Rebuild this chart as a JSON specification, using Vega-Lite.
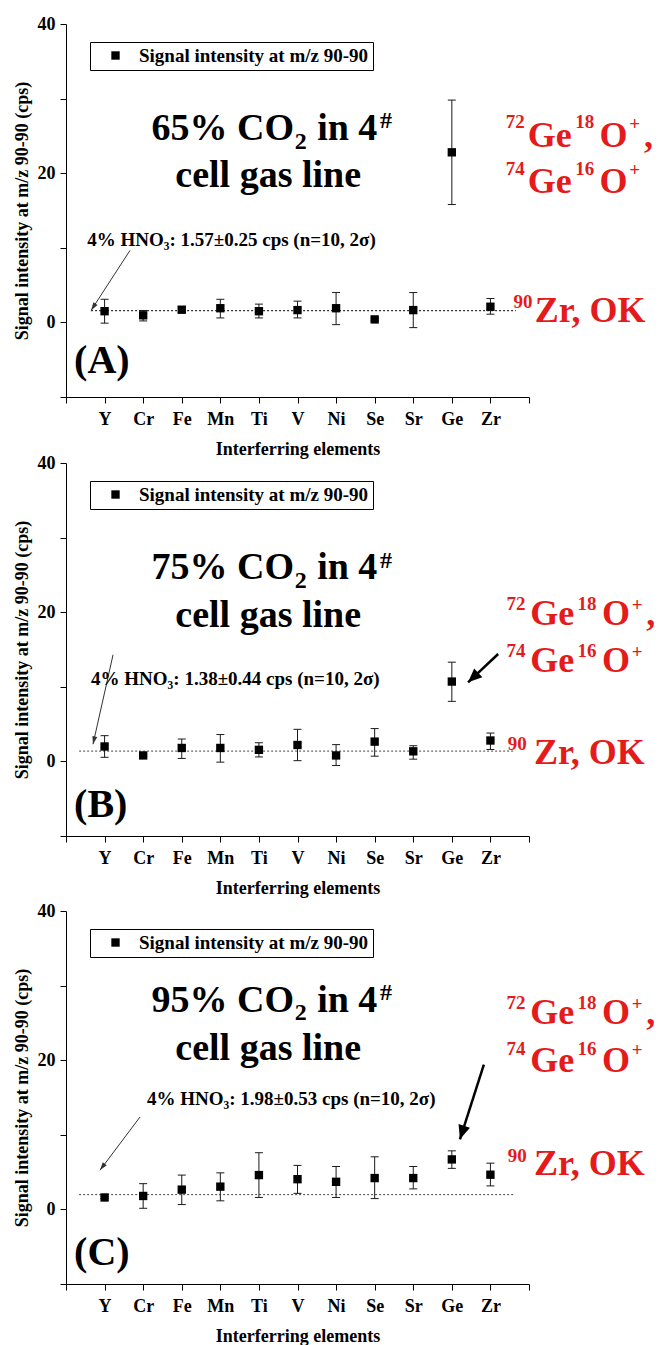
{
"$schema": "https://vega.github.io/schema/vega-lite/v6.json",
"padding": {"left": 13, "top": 15, "right": 0, "bottom": 5},
"config": {
  "font": "Liberation Serif",
  "view": {"stroke": null},
  "axis": {"labelFont": "Liberation Serif", "labelFontWeight": "bold", "labelFontSize": 18, "labelColor": "black", "titleFont": "Liberation Serif", "titleFontWeight": "bold", "titleFontSize": 18, "titleColor": "black", "domainColor": "black", "tickColor": "black", "grid": false, "tickSize": 6, "domainWidth": 1, "tickWidth": 1, "labelOverlap": false},
  "text": {"font": "Liberation Serif", "fontWeight": "bold", "baseline": "alphabetic"}
},
"datasets": {
  "pts": [
    {"panel":"A","element":"Y","value":1.5,"lo":-0.1,"hi":3.1},
    {"panel":"A","element":"Cr","value":0.95,"lo":0.2,"hi":1.6},
    {"panel":"A","element":"Fe","value":1.7,"lo":1.35,"hi":2.05},
    {"panel":"A","element":"Mn","value":1.9,"lo":0.6,"hi":3.1},
    {"panel":"A","element":"Ti","value":1.5,"lo":0.6,"hi":2.45},
    {"panel":"A","element":"V","value":1.65,"lo":0.6,"hi":2.85},
    {"panel":"A","element":"Ni","value":1.9,"lo":-0.3,"hi":4.0},
    {"panel":"A","element":"Se","value":0.4,"lo":0.25,"hi":0.55},
    {"panel":"A","element":"Sr","value":1.65,"lo":-0.7,"hi":4.0},
    {"panel":"A","element":"Ge","value":22.8,"lo":15.8,"hi":29.8},
    {"panel":"A","element":"Zr","value":2.1,"lo":1.1,"hi":3.2},
    {"panel":"B","element":"Y","value":2.0,"lo":0.55,"hi":3.45},
    {"panel":"B","element":"Cr","value":0.8,"lo":0.65,"hi":0.95},
    {"panel":"B","element":"Fe","value":1.8,"lo":0.4,"hi":3.0},
    {"panel":"B","element":"Mn","value":1.8,"lo":-0.1,"hi":3.6},
    {"panel":"B","element":"Ti","value":1.55,"lo":0.6,"hi":2.5},
    {"panel":"B","element":"V","value":2.2,"lo":0.1,"hi":4.3},
    {"panel":"B","element":"Ni","value":0.8,"lo":-0.55,"hi":2.25},
    {"panel":"B","element":"Se","value":2.65,"lo":0.7,"hi":4.4},
    {"panel":"B","element":"Sr","value":1.35,"lo":0.3,"hi":2.1},
    {"panel":"B","element":"Ge","value":10.7,"lo":8.05,"hi":13.3},
    {"panel":"B","element":"Zr","value":2.8,"lo":1.6,"hi":3.8},
    {"panel":"C","element":"Y","value":1.6,"lo":1.45,"hi":1.75},
    {"panel":"C","element":"Cr","value":1.8,"lo":0.15,"hi":3.45},
    {"panel":"C","element":"Fe","value":2.65,"lo":0.65,"hi":4.6},
    {"panel":"C","element":"Mn","value":3.05,"lo":1.15,"hi":4.9},
    {"panel":"C","element":"Ti","value":4.6,"lo":1.6,"hi":7.6},
    {"panel":"C","element":"V","value":4.05,"lo":2.15,"hi":5.9},
    {"panel":"C","element":"Ni","value":3.7,"lo":1.6,"hi":5.75},
    {"panel":"C","element":"Se","value":4.2,"lo":1.45,"hi":7.05},
    {"panel":"C","element":"Sr","value":4.2,"lo":2.75,"hi":5.75},
    {"panel":"C","element":"Ge","value":6.7,"lo":5.5,"hi":7.85},
    {"panel":"C","element":"Zr","value":4.65,"lo":3.15,"hi":6.2}
  ],
  "ann": [
    {"panel":"A","kind":"base","pos":0.65,"pos2":11.66,"y":1.57},
    {"panel":"A","kind":"arrow_thin","pos":1.66,"y":9.66,"pos2":0.65,"y2":1.61},
    {"panel":"A","kind":"title_r","pos":5.91,"y":24.4,"text":"65% CO"},
    {"panel":"A","kind":"title_sub","pos":5.93,"y":23.3,"text":"2"},
    {"panel":"A","kind":"title_l","pos":6.51,"y":24.4,"text":"in 4"},
    {"panel":"A","kind":"title_sup","pos":8.14,"y":26.0,"text":"#"},
    {"panel":"A","kind":"title_c","pos":5.24,"y":18.1,"text":"cell gas line"},
    {"panel":"A","kind":"red_sup","pos":11.4,"y":26.0,"text":"72"},
    {"panel":"A","kind":"red_l","pos":11.97,"y":23.5,"text":"Ge"},
    {"panel":"A","kind":"red_sup","pos":13.2,"y":26.0,"text":"18"},
    {"panel":"A","kind":"red_l","pos":13.83,"y":23.5,"text":"O"},
    {"panel":"A","kind":"red_sup","pos":14.6,"y":25.8,"text":"+"},
    {"panel":"A","kind":"red_l","pos":14.98,"y":23.5,"text":","},
    {"panel":"A","kind":"red_sup","pos":11.4,"y":19.8,"text":"74"},
    {"panel":"A","kind":"red_l","pos":11.97,"y":17.3,"text":"Ge"},
    {"panel":"A","kind":"red_sup","pos":13.2,"y":19.8,"text":"16"},
    {"panel":"A","kind":"red_l","pos":13.83,"y":17.3,"text":"O"},
    {"panel":"A","kind":"red_sup","pos":14.6,"y":19.6,"text":"+"},
    {"panel":"A","kind":"red_sup","pos":11.6,"y":1.9,"text":"90"},
    {"panel":"A","kind":"red_l","pos":12.15,"y":0.0,"text":"Zr, OK"},
    {"panel":"A","kind":"hno","pos":0.55,"y":10.3,"text":"4% HNO₃: 1.57±0.25 cps (n=10, 2σ)"},
    {"panel":"A","kind":"panel","pos":0.21,"y":-6.75,"text":"(A)"},

    {"panel":"B","kind":"base","pos":0.34,"pos2":11.64,"y":1.38},
    {"panel":"B","kind":"arrow_thin","pos":1.22,"y":14.3,"pos2":0.7,"y2":2.3},
    {"panel":"B","kind":"arrow_thick","pos":11.2,"y":14.4,"pos2":10.42,"y2":10.6},
    {"panel":"B","kind":"title_r","pos":5.91,"y":24.4,"text":"75% CO"},
    {"panel":"B","kind":"title_sub","pos":5.93,"y":23.2,"text":"2"},
    {"panel":"B","kind":"title_l","pos":6.51,"y":24.4,"text":"in 4"},
    {"panel":"B","kind":"title_sup","pos":8.14,"y":25.9,"text":"#"},
    {"panel":"B","kind":"title_c","pos":5.24,"y":18.0,"text":"cell gas line"},
    {"panel":"B","kind":"red_sup","pos":11.42,"y":20.3,"text":"72"},
    {"panel":"B","kind":"red_l","pos":12.03,"y":18.3,"text":"Ge"},
    {"panel":"B","kind":"red_sup","pos":13.26,"y":20.3,"text":"18"},
    {"panel":"B","kind":"red_l","pos":13.89,"y":18.3,"text":"O"},
    {"panel":"B","kind":"red_sup","pos":14.66,"y":20.1,"text":"+"},
    {"panel":"B","kind":"red_l","pos":15.04,"y":18.3,"text":","},
    {"panel":"B","kind":"red_sup","pos":11.42,"y":14.0,"text":"74"},
    {"panel":"B","kind":"red_l","pos":12.03,"y":12.0,"text":"Ge"},
    {"panel":"B","kind":"red_sup","pos":13.26,"y":14.0,"text":"16"},
    {"panel":"B","kind":"red_l","pos":13.89,"y":12.0,"text":"O"},
    {"panel":"B","kind":"red_sup","pos":14.66,"y":13.8,"text":"+"},
    {"panel":"B","kind":"red_sup","pos":11.45,"y":1.5,"text":"90"},
    {"panel":"B","kind":"red_l","pos":12.13,"y":-0.4,"text":"Zr, OK"},
    {"panel":"B","kind":"hno","pos":0.65,"y":10.2,"text":"4% HNO₃: 1.38±0.44 cps (n=10, 2σ)"},
    {"panel":"B","kind":"panel","pos":0.21,"y":-7.5,"text":"(B)"},

    {"panel":"C","kind":"base","pos":0.34,"pos2":11.64,"y":1.98},
    {"panel":"C","kind":"arrow_thin","pos":1.92,"y":12.4,"pos2":0.88,"y2":5.25},
    {"panel":"C","kind":"arrow_thick","pos":10.83,"y":19.4,"pos2":10.21,"y2":9.4},
    {"panel":"C","kind":"title_r","pos":5.91,"y":26.5,"text":"95% CO"},
    {"panel":"C","kind":"title_sub","pos":5.93,"y":25.4,"text":"2"},
    {"panel":"C","kind":"title_l","pos":6.51,"y":26.5,"text":"in 4"},
    {"panel":"C","kind":"title_sup","pos":8.14,"y":28.1,"text":"#"},
    {"panel":"C","kind":"title_c","pos":5.24,"y":20.05,"text":"cell gas line"},
    {"panel":"C","kind":"red_sup","pos":11.42,"y":26.9,"text":"72"},
    {"panel":"C","kind":"red_l","pos":12.03,"y":24.8,"text":"Ge"},
    {"panel":"C","kind":"red_sup","pos":13.26,"y":26.9,"text":"18"},
    {"panel":"C","kind":"red_l","pos":13.89,"y":24.8,"text":"O"},
    {"panel":"C","kind":"red_sup","pos":14.66,"y":26.7,"text":"+"},
    {"panel":"C","kind":"red_l","pos":15.04,"y":24.8,"text":","},
    {"panel":"C","kind":"red_sup","pos":11.42,"y":20.7,"text":"74"},
    {"panel":"C","kind":"red_l","pos":12.03,"y":18.4,"text":"Ge"},
    {"panel":"C","kind":"red_sup","pos":13.26,"y":20.7,"text":"16"},
    {"panel":"C","kind":"red_l","pos":13.89,"y":18.4,"text":"O"},
    {"panel":"C","kind":"red_sup","pos":14.66,"y":20.5,"text":"+"},
    {"panel":"C","kind":"red_sup","pos":11.45,"y":6.3,"text":"90"},
    {"panel":"C","kind":"red_l","pos":12.13,"y":4.6,"text":"Zr, OK"},
    {"panel":"C","kind":"hno","pos":2.1,"y":14.0,"text":"4% HNO₃: 1.98±0.53 cps (n=10, 2σ)"},
    {"panel":"C","kind":"panel","pos":0.21,"y":-7.4,"text":"(C)"}
  ]
},
"spacing": 66,
"bounds": "flush",
"resolve": {"scale": {"shape": "independent"}, "legend": {"shape": "independent"}},
"vconcat": [
{
 "width": 463, "height": 373,
 "resolve": {"scale": {"x": "independent"}},
 "layer": [
  {
   "data": {"name": "ann"},
   "transform": [{"filter": "datum.panel === 'A'"}],
   "layer": [
    {"transform": [{"filter": "datum.kind === 'base'"}], "mark": {"type": "rule", "strokeDash": [2, 2], "color": "black", "strokeWidth": 1}, "encoding": {"x": {"field": "pos", "type": "quantitative", "scale": {"domain": [0, 12], "nice": false, "zero": false}, "axis": null}, "x2": {"field": "pos2"}, "y": {"field": "y", "type": "quantitative", "scale": {"domain": [-10, 40], "nice": false, "zero": false}}}},
    {"transform": [{"filter": "datum.kind === 'arrow_thin'"}], "mark": {"type": "rule", "color": "#333333", "strokeWidth": 1}, "encoding": {"x": {"field": "pos", "type": "quantitative", "axis": null}, "x2": {"field": "pos2"}, "y": {"field": "y", "type": "quantitative"}, "y2": {"field": "y2"}}},
    {"transform": [{"filter": "datum.kind === 'arrow_thin'"}], "mark": {"type": "point", "shape": "M0,0L-0.5,1.6L0.5,1.6Z", "filled": true, "color": "#333333", "opacity": 1, "size": 100, "angle": 213}, "encoding": {"x": {"field": "pos2", "type": "quantitative", "axis": null}, "y": {"field": "y2", "type": "quantitative"}}},
    {"transform": [{"filter": "datum.kind === 'title_r'"}], "mark": {"type": "text", "align": "right", "fontSize": 38, "color": "black"}, "encoding": {"x": {"field": "pos", "type": "quantitative", "axis": null}, "y": {"field": "y", "type": "quantitative"}, "text": {"field": "text"}}},
    {"transform": [{"filter": "datum.kind === 'title_l'"}], "mark": {"type": "text", "align": "left", "fontSize": 38, "color": "black"}, "encoding": {"x": {"field": "pos", "type": "quantitative", "axis": null}, "y": {"field": "y", "type": "quantitative"}, "text": {"field": "text"}}},
    {"transform": [{"filter": "datum.kind === 'title_c'"}], "mark": {"type": "text", "align": "center", "fontSize": 38, "color": "black"}, "encoding": {"x": {"field": "pos", "type": "quantitative", "axis": null}, "y": {"field": "y", "type": "quantitative"}, "text": {"field": "text"}}},
    {"transform": [{"filter": "datum.kind === 'title_sub' || datum.kind === 'title_sup'"}], "mark": {"type": "text", "align": "left", "fontSize": 24, "color": "black"}, "encoding": {"x": {"field": "pos", "type": "quantitative", "axis": null}, "y": {"field": "y", "type": "quantitative"}, "text": {"field": "text"}}},
    {"transform": [{"filter": "datum.kind === 'red_l'"}], "mark": {"type": "text", "align": "left", "fontSize": 36, "color": "#e51a1a"}, "encoding": {"x": {"field": "pos", "type": "quantitative", "axis": null}, "y": {"field": "y", "type": "quantitative"}, "text": {"field": "text"}}},
    {"transform": [{"filter": "datum.kind === 'red_sup'"}], "mark": {"type": "text", "align": "left", "fontSize": 19, "color": "#e51a1a"}, "encoding": {"x": {"field": "pos", "type": "quantitative", "axis": null}, "y": {"field": "y", "type": "quantitative"}, "text": {"field": "text"}}},
    {"transform": [{"filter": "datum.kind === 'hno'"}], "mark": {"type": "text", "align": "left", "fontSize": 19, "color": "black"}, "encoding": {"x": {"field": "pos", "type": "quantitative", "axis": null}, "y": {"field": "y", "type": "quantitative"}, "text": {"field": "text"}}},
    {"transform": [{"filter": "datum.kind === 'panel'"}], "mark": {"type": "text", "align": "left", "fontSize": 40, "color": "black"}, "encoding": {"x": {"field": "pos", "type": "quantitative", "axis": null}, "y": {"field": "y", "type": "quantitative"}, "text": {"field": "text"}}}
   ]
  },
  {
   "data": {"name": "pts"},
   "transform": [{"filter": "datum.panel === 'A'"}],
   "encoding": {"x": {"field": "element", "type": "nominal", "scale": {"type": "point", "domain": ["", "Y", "Cr", "Fe", "Mn", "Ti", "V", "Ni", "Se", "Sr", "Ge", "Zr", " "], "padding": 0}, "axis": {"title": "Interferring elements", "labelAngle": 0, "labelPadding": 7, "titlePadding": 12}}},
   "layer": [
    {"mark": {"type": "rule", "color": "#1a1a1a", "strokeWidth": 1}, "encoding": {"y": {"field": "lo", "type": "quantitative", "scale": {"domain": [-10, 40], "nice": false, "zero": false}}, "y2": {"field": "hi"}}},
    {"mark": {"type": "tick", "orient": "horizontal", "color": "#1a1a1a", "thickness": 1, "size": 8, "opacity": 1}, "encoding": {"y": {"field": "lo", "type": "quantitative"}}},
    {"mark": {"type": "tick", "orient": "horizontal", "color": "#1a1a1a", "thickness": 1, "size": 8, "opacity": 1}, "encoding": {"y": {"field": "hi", "type": "quantitative"}}},
    {"mark": {"type": "point", "filled": true, "color": "black", "size": 70, "opacity": 1}, "encoding": {
      "y": {"field": "value", "type": "quantitative", "scale": {"domain": [-10, 40], "nice": false, "zero": false}, "axis": {"title": "Signal intensity at m/z 90-90 (cps)", "values": [-10, 0, 10, 20, 30, 40], "labelExpr": "datum.value % 20 === 0 ? datum.label : ''", "labelPadding": 5, "titlePadding": 6}},
      "shape": {"datum": "Signal intensity at m/z 90-90", "type": "nominal", "scale": {"range": ["square"]}, "legend": {"title": null, "orient": "none", "legendX": 24, "legendY": 18, "strokeColor": "black", "padding": 4, "symbolFillColor": "black", "symbolStrokeWidth": 0, "symbolSize": 70, "symbolOffset": 12, "labelOffset": 14, "labelFont": "Liberation Serif", "labelFontSize": 19, "labelFontWeight": "bold", "labelColor": "black", "labelLimit": 400, "fillColor": "white"}}
    }}
   ]
  }
 ]
},
{
 "spacing": 75,
 "bounds": "flush",
 "resolve": {"scale": {"shape": "independent"}, "legend": {"shape": "independent"}},
 "vconcat": [
 {
  "width": 463, "height": 373,
  "resolve": {"scale": {"x": "independent"}},
  "layer": [
   {
    "data": {"name": "ann"},
    "transform": [{"filter": "datum.panel === 'B'"}],
    "layer": [
     {"transform": [{"filter": "datum.kind === 'base'"}], "mark": {"type": "rule", "strokeDash": [2, 2], "color": "#444444", "strokeWidth": 1}, "encoding": {"x": {"field": "pos", "type": "quantitative", "scale": {"domain": [0, 12], "nice": false, "zero": false}, "axis": null}, "x2": {"field": "pos2"}, "y": {"field": "y", "type": "quantitative", "scale": {"domain": [-10, 40], "nice": false, "zero": false}}}},
     {"transform": [{"filter": "datum.kind === 'arrow_thin'"}], "mark": {"type": "rule", "color": "#333333", "strokeWidth": 1}, "encoding": {"x": {"field": "pos", "type": "quantitative", "axis": null}, "x2": {"field": "pos2"}, "y": {"field": "y", "type": "quantitative"}, "y2": {"field": "y2"}}},
     {"transform": [{"filter": "datum.kind === 'arrow_thin'"}], "mark": {"type": "point", "shape": "M0,0L-0.5,1.6L0.5,1.6Z", "filled": true, "color": "#333333", "opacity": 1, "size": 100, "angle": 193}, "encoding": {"x": {"field": "pos2", "type": "quantitative", "axis": null}, "y": {"field": "y2", "type": "quantitative"}}},
     {"transform": [{"filter": "datum.kind === 'arrow_thick'"}], "mark": {"type": "rule", "color": "black", "strokeWidth": 2.5}, "encoding": {"x": {"field": "pos", "type": "quantitative", "axis": null}, "x2": {"field": "pos2"}, "y": {"field": "y", "type": "quantitative"}, "y2": {"field": "y2"}}},
     {"transform": [{"filter": "datum.kind === 'arrow_thick'"}], "mark": {"type": "point", "shape": "M0,0L-0.6,1.4L0.6,1.4Z", "filled": true, "color": "black", "opacity": 1, "size": 400, "angle": 227}, "encoding": {"x": {"field": "pos2", "type": "quantitative", "axis": null}, "y": {"field": "y2", "type": "quantitative"}}},
     {"transform": [{"filter": "datum.kind === 'title_r'"}], "mark": {"type": "text", "align": "right", "fontSize": 38, "color": "black"}, "encoding": {"x": {"field": "pos", "type": "quantitative", "axis": null}, "y": {"field": "y", "type": "quantitative"}, "text": {"field": "text"}}},
     {"transform": [{"filter": "datum.kind === 'title_l'"}], "mark": {"type": "text", "align": "left", "fontSize": 38, "color": "black"}, "encoding": {"x": {"field": "pos", "type": "quantitative", "axis": null}, "y": {"field": "y", "type": "quantitative"}, "text": {"field": "text"}}},
     {"transform": [{"filter": "datum.kind === 'title_c'"}], "mark": {"type": "text", "align": "center", "fontSize": 38, "color": "black"}, "encoding": {"x": {"field": "pos", "type": "quantitative", "axis": null}, "y": {"field": "y", "type": "quantitative"}, "text": {"field": "text"}}},
     {"transform": [{"filter": "datum.kind === 'title_sub' || datum.kind === 'title_sup'"}], "mark": {"type": "text", "align": "left", "fontSize": 24, "color": "black"}, "encoding": {"x": {"field": "pos", "type": "quantitative", "axis": null}, "y": {"field": "y", "type": "quantitative"}, "text": {"field": "text"}}},
     {"transform": [{"filter": "datum.kind === 'red_l'"}], "mark": {"type": "text", "align": "left", "fontSize": 36, "color": "#e51a1a"}, "encoding": {"x": {"field": "pos", "type": "quantitative", "axis": null}, "y": {"field": "y", "type": "quantitative"}, "text": {"field": "text"}}},
     {"transform": [{"filter": "datum.kind === 'red_sup'"}], "mark": {"type": "text", "align": "left", "fontSize": 19, "color": "#e51a1a"}, "encoding": {"x": {"field": "pos", "type": "quantitative", "axis": null}, "y": {"field": "y", "type": "quantitative"}, "text": {"field": "text"}}},
     {"transform": [{"filter": "datum.kind === 'hno'"}], "mark": {"type": "text", "align": "left", "fontSize": 19, "color": "black"}, "encoding": {"x": {"field": "pos", "type": "quantitative", "axis": null}, "y": {"field": "y", "type": "quantitative"}, "text": {"field": "text"}}},
     {"transform": [{"filter": "datum.kind === 'panel'"}], "mark": {"type": "text", "align": "left", "fontSize": 40, "color": "black"}, "encoding": {"x": {"field": "pos", "type": "quantitative", "axis": null}, "y": {"field": "y", "type": "quantitative"}, "text": {"field": "text"}}}
    ]
   },
   {
    "data": {"name": "pts"},
    "transform": [{"filter": "datum.panel === 'B'"}],
    "encoding": {"x": {"field": "element", "type": "nominal", "scale": {"type": "point", "domain": ["", "Y", "Cr", "Fe", "Mn", "Ti", "V", "Ni", "Se", "Sr", "Ge", "Zr", " "], "padding": 0}, "axis": {"title": "Interferring elements", "labelAngle": 0, "labelPadding": 7, "titlePadding": 12}}},
    "layer": [
     {"mark": {"type": "rule", "color": "#1a1a1a", "strokeWidth": 1}, "encoding": {"y": {"field": "lo", "type": "quantitative", "scale": {"domain": [-10, 40], "nice": false, "zero": false}}, "y2": {"field": "hi"}}},
     {"mark": {"type": "tick", "orient": "horizontal", "color": "#1a1a1a", "thickness": 1, "size": 8, "opacity": 1}, "encoding": {"y": {"field": "lo", "type": "quantitative"}}},
     {"mark": {"type": "tick", "orient": "horizontal", "color": "#1a1a1a", "thickness": 1, "size": 8, "opacity": 1}, "encoding": {"y": {"field": "hi", "type": "quantitative"}}},
     {"mark": {"type": "point", "filled": true, "color": "black", "size": 70, "opacity": 1}, "encoding": {
       "y": {"field": "value", "type": "quantitative", "scale": {"domain": [-10, 40], "nice": false, "zero": false}, "axis": {"title": "Signal intensity at m/z 90-90 (cps)", "values": [-10, 0, 10, 20, 30, 40], "labelExpr": "datum.value % 20 === 0 ? datum.label : ''", "labelPadding": 5, "titlePadding": 6}},
       "shape": {"datum": "Signal intensity at m/z 90-90", "type": "nominal", "scale": {"range": ["square"]}, "legend": {"title": null, "orient": "none", "legendX": 24, "legendY": 18, "strokeColor": "black", "padding": 4, "symbolFillColor": "black", "symbolStrokeWidth": 0, "symbolSize": 70, "symbolOffset": 12, "labelOffset": 14, "labelFont": "Liberation Serif", "labelFontSize": 19, "labelFontWeight": "bold", "labelColor": "black", "labelLimit": 400, "fillColor": "white"}}
     }}
    ]
   }
  ]
 },
 {
  "width": 463, "height": 373,
  "resolve": {"scale": {"x": "independent"}},
  "layer": [
   {
    "data": {"name": "ann"},
    "transform": [{"filter": "datum.panel === 'C'"}],
    "layer": [
     {"transform": [{"filter": "datum.kind === 'base'"}], "mark": {"type": "rule", "strokeDash": [2, 2], "color": "#444444", "strokeWidth": 1}, "encoding": {"x": {"field": "pos", "type": "quantitative", "scale": {"domain": [0, 12], "nice": false, "zero": false}, "axis": null}, "x2": {"field": "pos2"}, "y": {"field": "y", "type": "quantitative", "scale": {"domain": [-10, 40], "nice": false, "zero": false}}}},
     {"transform": [{"filter": "datum.kind === 'arrow_thin'"}], "mark": {"type": "rule", "color": "#333333", "strokeWidth": 1}, "encoding": {"x": {"field": "pos", "type": "quantitative", "axis": null}, "x2": {"field": "pos2"}, "y": {"field": "y", "type": "quantitative"}, "y2": {"field": "y2"}}},
     {"transform": [{"filter": "datum.kind === 'arrow_thin'"}], "mark": {"type": "point", "shape": "M0,0L-0.5,1.6L0.5,1.6Z", "filled": true, "color": "#333333", "opacity": 1, "size": 100, "angle": 217}, "encoding": {"x": {"field": "pos2", "type": "quantitative", "axis": null}, "y": {"field": "y2", "type": "quantitative"}}},
     {"transform": [{"filter": "datum.kind === 'arrow_thick'"}], "mark": {"type": "rule", "color": "black", "strokeWidth": 2.5}, "encoding": {"x": {"field": "pos", "type": "quantitative", "axis": null}, "x2": {"field": "pos2"}, "y": {"field": "y", "type": "quantitative"}, "y2": {"field": "y2"}}},
     {"transform": [{"filter": "datum.kind === 'arrow_thick'"}], "mark": {"type": "point", "shape": "M0,0L-0.6,1.4L0.6,1.4Z", "filled": true, "color": "black", "opacity": 1, "size": 400, "angle": 198}, "encoding": {"x": {"field": "pos2", "type": "quantitative", "axis": null}, "y": {"field": "y2", "type": "quantitative"}}},
     {"transform": [{"filter": "datum.kind === 'title_r'"}], "mark": {"type": "text", "align": "right", "fontSize": 38, "color": "black"}, "encoding": {"x": {"field": "pos", "type": "quantitative", "axis": null}, "y": {"field": "y", "type": "quantitative"}, "text": {"field": "text"}}},
     {"transform": [{"filter": "datum.kind === 'title_l'"}], "mark": {"type": "text", "align": "left", "fontSize": 38, "color": "black"}, "encoding": {"x": {"field": "pos", "type": "quantitative", "axis": null}, "y": {"field": "y", "type": "quantitative"}, "text": {"field": "text"}}},
     {"transform": [{"filter": "datum.kind === 'title_c'"}], "mark": {"type": "text", "align": "center", "fontSize": 38, "color": "black"}, "encoding": {"x": {"field": "pos", "type": "quantitative", "axis": null}, "y": {"field": "y", "type": "quantitative"}, "text": {"field": "text"}}},
     {"transform": [{"filter": "datum.kind === 'title_sub' || datum.kind === 'title_sup'"}], "mark": {"type": "text", "align": "left", "fontSize": 24, "color": "black"}, "encoding": {"x": {"field": "pos", "type": "quantitative", "axis": null}, "y": {"field": "y", "type": "quantitative"}, "text": {"field": "text"}}},
     {"transform": [{"filter": "datum.kind === 'red_l'"}], "mark": {"type": "text", "align": "left", "fontSize": 36, "color": "#e51a1a"}, "encoding": {"x": {"field": "pos", "type": "quantitative", "axis": null}, "y": {"field": "y", "type": "quantitative"}, "text": {"field": "text"}}},
     {"transform": [{"filter": "datum.kind === 'red_sup'"}], "mark": {"type": "text", "align": "left", "fontSize": 19, "color": "#e51a1a"}, "encoding": {"x": {"field": "pos", "type": "quantitative", "axis": null}, "y": {"field": "y", "type": "quantitative"}, "text": {"field": "text"}}},
     {"transform": [{"filter": "datum.kind === 'hno'"}], "mark": {"type": "text", "align": "left", "fontSize": 19, "color": "black"}, "encoding": {"x": {"field": "pos", "type": "quantitative", "axis": null}, "y": {"field": "y", "type": "quantitative"}, "text": {"field": "text"}}},
     {"transform": [{"filter": "datum.kind === 'panel'"}], "mark": {"type": "text", "align": "left", "fontSize": 40, "color": "black"}, "encoding": {"x": {"field": "pos", "type": "quantitative", "axis": null}, "y": {"field": "y", "type": "quantitative"}, "text": {"field": "text"}}}
    ]
   },
   {
    "data": {"name": "pts"},
    "transform": [{"filter": "datum.panel === 'C'"}],
    "encoding": {"x": {"field": "element", "type": "nominal", "scale": {"type": "point", "domain": ["", "Y", "Cr", "Fe", "Mn", "Ti", "V", "Ni", "Se", "Sr", "Ge", "Zr", " "], "padding": 0}, "axis": {"title": "Interferring elements", "labelAngle": 0, "labelPadding": 7, "titlePadding": 12}}},
    "layer": [
     {"mark": {"type": "rule", "color": "#1a1a1a", "strokeWidth": 1}, "encoding": {"y": {"field": "lo", "type": "quantitative", "scale": {"domain": [-10, 40], "nice": false, "zero": false}}, "y2": {"field": "hi"}}},
     {"mark": {"type": "tick", "orient": "horizontal", "color": "#1a1a1a", "thickness": 1, "size": 8, "opacity": 1}, "encoding": {"y": {"field": "lo", "type": "quantitative"}}},
     {"mark": {"type": "tick", "orient": "horizontal", "color": "#1a1a1a", "thickness": 1, "size": 8, "opacity": 1}, "encoding": {"y": {"field": "hi", "type": "quantitative"}}},
     {"mark": {"type": "point", "filled": true, "color": "black", "size": 70, "opacity": 1}, "encoding": {
       "y": {"field": "value", "type": "quantitative", "scale": {"domain": [-10, 40], "nice": false, "zero": false}, "axis": {"title": "Signal intensity at m/z 90-90 (cps)", "values": [-10, 0, 10, 20, 30, 40], "labelExpr": "datum.value % 20 === 0 ? datum.label : ''", "labelPadding": 5, "titlePadding": 6}},
       "shape": {"datum": "Signal intensity at m/z 90-90", "type": "nominal", "scale": {"range": ["square"]}, "legend": {"title": null, "orient": "none", "legendX": 24, "legendY": 18, "strokeColor": "black", "padding": 4, "symbolFillColor": "black", "symbolStrokeWidth": 0, "symbolSize": 70, "symbolOffset": 12, "labelOffset": 14, "labelFont": "Liberation Serif", "labelFontSize": 19, "labelFontWeight": "bold", "labelColor": "black", "labelLimit": 400, "fillColor": "white"}}
     }}
    ]
   }
  ]
 }
 ]
}
]
}
